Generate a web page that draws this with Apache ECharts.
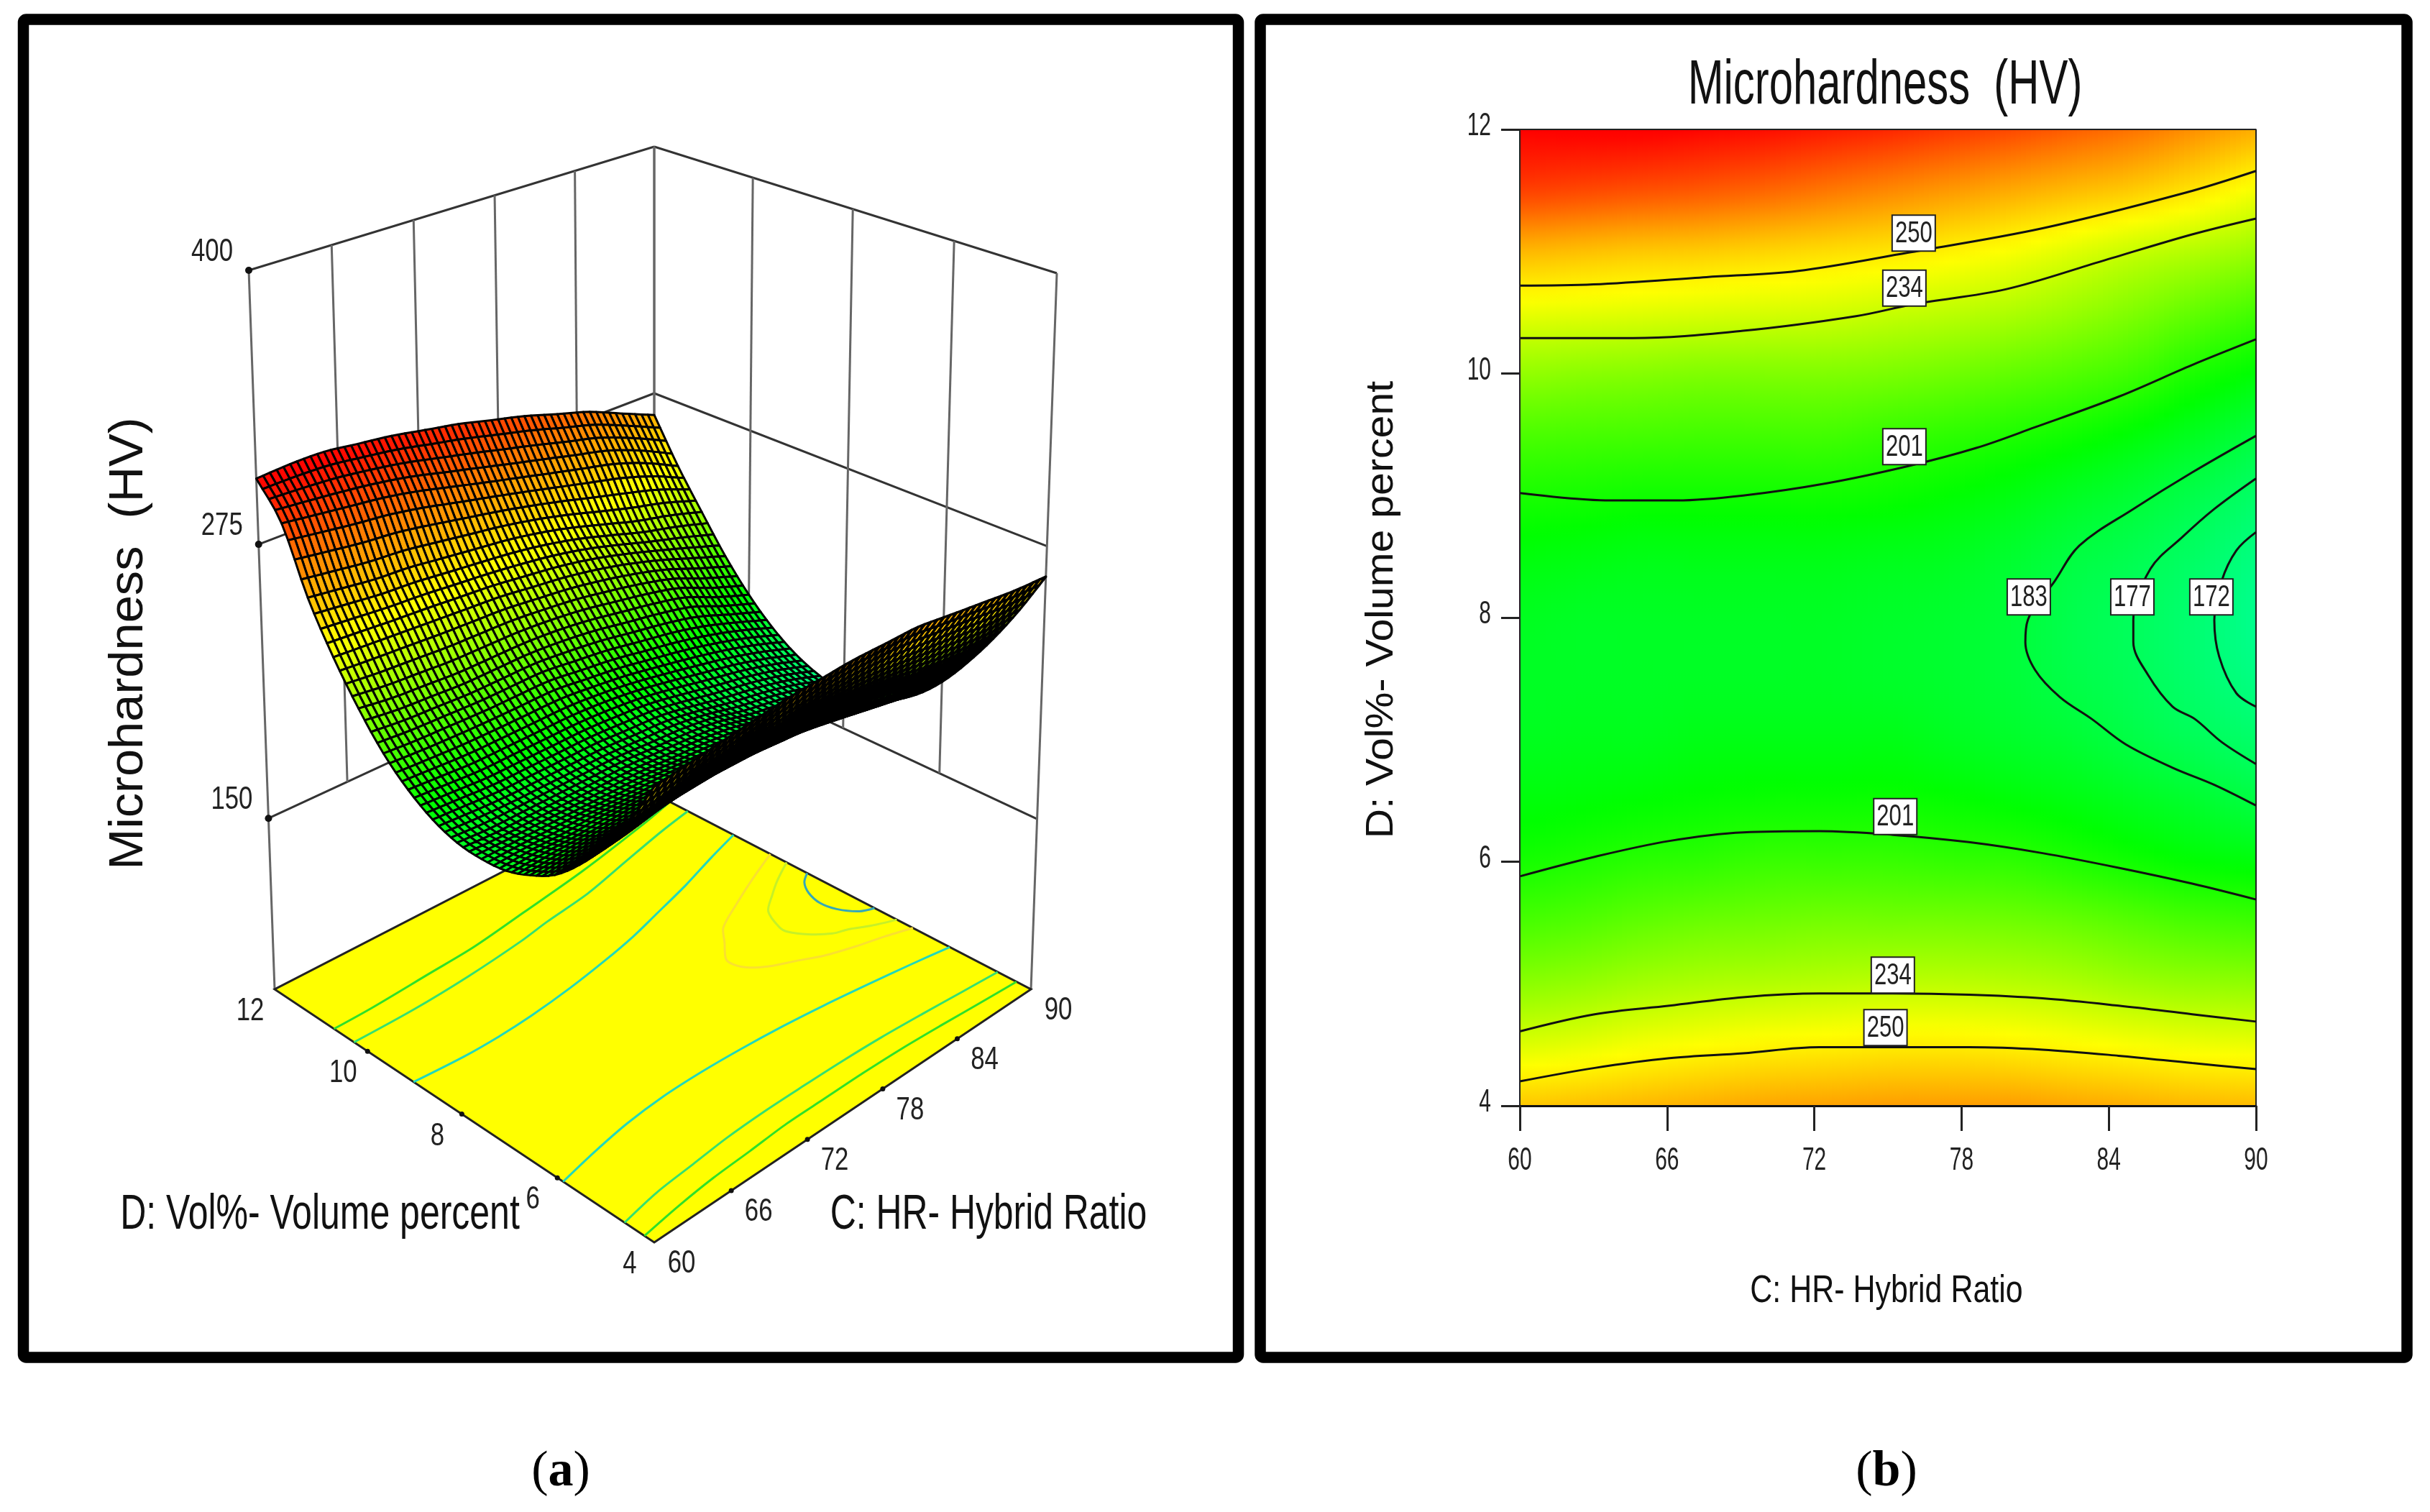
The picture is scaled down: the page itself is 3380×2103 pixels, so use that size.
<!DOCTYPE html>
<html><head><meta charset="utf-8">
<style>html,body{margin:0;padding:0;background:#fff}#c{width:3380px;height:2103px}</style>
<script src="https://cdn.jsdelivr.net/npm/echarts@6/dist/echarts.min.js"></script>
</head><body><div id="c"></div>
<script>
// ---------- values ----------
const hybridRatio = [60,62.5,65,67.5,70,72.5,75,77.5,80,82.5,85,87.5,90];
const volumePercent = [4,4.5,5,5.5,6,6.5,7,7.5,8,8.5,9,9.5,10,10.5,11,11.5,12];
const hardnessD4   = [258,260,262,264,266,267,268,268,268,266,264,262,261];
const hardnessD4_5 = [238,240,243,245,247,248,249,249,248,246,244,242,241];
const hardnessD5   = [222,224,227,229,230,231,232,232,231,229,226,224,223];
const hardnessD5_5 = [209,211,214,216,217,218,218,218,217,215,212,209,207];
const hardnessD6   = [199,201,203,204,206,206,206,205,204,201,198,195,193];
const hardnessD6_5 = [193,194,195,196,197,197,197,196,194,192,189,186,182];
const hardnessD7   = [189,190,190,191,191,191,191,189,187,185,181.5,178,174.5];
const hardnessD7_5 = [188,188,188,188,188,188,187,186,184,181,178,174,169.5];
const hardnessD8   = [189,188,188,188,188,188,187,186,184,180,177,173,167.5];
const hardnessD8_5 = [193,192,191,191,191,191,190,189,186,182.5,179.5,175.5,170];
const hardnessD9   = [200,199,198,198,198,198,197,195,192,188.5,185,180.5,175];
const hardnessD9_5 = [210,209,208.5,208,208,208,206,204,201,198,194,189,183];
const hardnessD10  = [224,222,221,220,220,220,219,217,214,211,207,200,194];
const hardnessD10_5= [241,240,239,238,237,236,234,232,229,225,220,214,208];
const hardnessD11  = [262,260,258,257,255,253,251,248,244,239,234,230,225];
const hardnessD11_5= [290,288,286,284,281,277,273,269,265,261,257,251,243];
const hardnessD12  = [305,306,306,304,302,299,296,292,288,283,278,271,264];
const hardnessRows = [hardnessD4,hardnessD4_5,hardnessD5,hardnessD5_5,hardnessD6,hardnessD6_5,hardnessD7,hardnessD7_5,hardnessD8,hardnessD8_5,hardnessD9,hardnessD9_5,hardnessD10,hardnessD10_5,hardnessD11,hardnessD11_5,hardnessD12];

const contour250Upper = [[60,10.72],[63,10.73],[67.6,10.79],[71.3,10.84],[75.8,10.99],[81.3,11.19],[87.1,11.48],[90,11.66]];
const contour234Upper = [[60,10.29],[64.6,10.29],[69.1,10.35],[73.7,10.47],[76.1,10.57],[79.8,10.69],[83.7,10.92],[87.4,11.14],[90,11.27]];
const contour201Upper = [[60,9.02],[63.7,8.96],[66.4,8.96],[69.1,9],[72.5,9.1],[75.8,9.24],[78.6,9.39],[81,9.56],[84.4,9.81],[87.4,10.07],[90,10.28]];
const contour183 = [[90,9.49],[87.4,9.19],[85,8.89],[82.8,8.59],[81.8,8.3],[80.7,7.98],[80.6,7.8],[81,7.57],[82,7.35],[83.3,7.17],[84.7,6.96],[86.6,6.77],[88.3,6.63],[90,6.46]];
const contour177 = [[90,9.14],[88.3,8.89],[87,8.66],[85.7,8.4],[85,7.98],[85,7.8],[85.6,7.53],[86.6,7.27],[87.5,7.17],[88.6,6.98],[90,6.8]];
const contour172 = [[90,8.7],[89.2,8.55],[88.6,8.3],[88.3,7.98],[88.5,7.68],[89.2,7.38],[90,7.27]];
const contour201Lower = [[60,5.88],[63.05,6.04],[66.1,6.17],[69.1,6.24],[72.2,6.25],[75.2,6.22],[78.3,6.16],[81.3,6.07],[84.4,5.95],[87.4,5.82],[90,5.69]];
const contour234Lower = [[60,4.61],[63.05,4.75],[66.1,4.82],[69.1,4.89],[72.2,4.92],[75.2,4.92],[78.3,4.91],[81.3,4.88],[84.4,4.82],[87.4,4.75],[90,4.69]];
const contour250Lower = [[60,4.2],[63.05,4.31],[66.1,4.39],[69.1,4.43],[72.2,4.48],[75.2,4.48],[78.3,4.48],[81.3,4.46],[84.4,4.41],[87.4,4.35],[90,4.3]];
const contourLines = [contour250Upper,contour234Upper,contour201Upper,contour183,contour177,contour172,contour201Lower,contour234Lower,contour250Lower];
const contourFloorColors = ['#2fe02a','#35e070','#22d8bc','#f9e030','#c6f028','#35a8b8','#22d8bc','#35e070','#2fe02a'];
const contourLabels = [[76.05,11.15,250],[75.67,10.7,234],[75.67,9.4,201],[80.74,8.17,183],[84.96,8.17,177],[88.18,8.17,172],[75.3,6.37,201],[75.2,5.07,234],[74.9,4.64,250]];

const hrTicks = [60,66,72,78,84,90];
const volTicks = [4,6,8,10,12];
const hardnessTicks = [150,275,400];

// ---------- shared helpers ----------
const SANS = '"Liberation Sans",sans-serif';
const SERIF = '"Liberation Serif",serif';
const colorStops = [[145,0,255,255],[195,0,255,0],[245,255,255,0],[305,255,0,0]];
function colorOf(v){
  if(v<=colorStops[0][0]) return 'rgb(0,255,255)';
  for(let i=1;i<colorStops.length;i++){
    const a=colorStops[i-1],b=colorStops[i];
    if(v<=b[0]){const t=(v-a[0])/(b[0]-a[0]);
      return 'rgb('+Math.round(a[1]+(b[1]-a[1])*t)+','+Math.round(a[2]+(b[2]-a[2])*t)+','+Math.round(a[3]+(b[3]-a[3])*t)+')';}
  }
  return 'rgb(255,0,0)';
}
function crSpline(p0,p1,p2,p3,t){return 0.5*(2*p1+(p2-p0)*t+(2*p0-5*p1+4*p2-p3)*t*t+(3*p1-p0-3*p2+p3)*t*t*t);}
function cellVal(i,j){
  const nc=hybridRatio.length,nr=volumePercent.length;
  if(i<0) return 2*cellVal(0,j)-cellVal(1,j);
  if(i>=nc) return 2*cellVal(nc-1,j)-cellVal(nc-2,j);
  if(j<0) return 2*cellVal(i,0)-cellVal(i,1);
  if(j>=nr) return 2*cellVal(i,nr-1)-cellVal(i,nr-2);
  return hardnessRows[j][i];
}
function surfaceAt(c,d){
  const fi=(c-hybridRatio[0])/(hybridRatio[1]-hybridRatio[0]),fj=(d-volumePercent[0])/(volumePercent[1]-volumePercent[0]);
  const i=Math.min(Math.floor(fi),hybridRatio.length-2),j=Math.min(Math.floor(fj),volumePercent.length-2);
  const tc=fi-i,td=fj-j,col=[];
  for(let m=-1;m<=2;m++) col.push(crSpline(cellVal(i-1,j+m),cellVal(i,j+m),cellVal(i+1,j+m),cellVal(i+2,j+m),tc));
  return crSpline(col[0],col[1],col[2],col[3],td);
}
const cellData=[];
for(let j=volumePercent.length-2;j>=0;j--) for(let i=hybridRatio.length-2;i>=0;i--) cellData.push([hybridRatio[i],volumePercent[j],hardnessRows[j][i]]);
const cStep=hybridRatio[1]-hybridRatio[0],dStep=volumePercent[1]-volumePercent[0];

// ---------- perspective box for panel (a) ----------
const floorZ=72,topZ=400;
const boxCorners=[
  {u:0,v:0,bx:910,by:1728,tx:910,ty:610,d:.32},
  {u:1,v:0,bx:1434,by:1376,tx:1470,ty:380,d:.329},
  {u:1,v:1,bx:910,by:1104,tx:910,ty:204,d:.338},
  {u:0,v:1,bx:382,by:1376,tx:346,ty:376,d:.329}];
function project(c,d,z){
  const u=echarts.number.linearMap(c,[60,90],[0,1]),v=echarts.number.linearMap(d,[4,12],[0,1]),w=echarts.number.linearMap(z,[floorZ,topZ],[0,1]);
  let sx=0,sy=0,sw=0;
  for(const k of boxCorners){
    const b=(k.u?u:1-u)*(k.v?v:1-v)*k.d;
    sx+=b*(k.bx+(k.tx-k.bx)*w);sy+=b*(k.by+(k.ty-k.by)*w);sw+=b;
  }
  return [sx/sw,sy/sw];
}
function seg(a,b,stroke,lw){return {type:'line',shape:{x1:a[0],y1:a[1],x2:b[0],y2:b[1]},style:{stroke:stroke,lineWidth:lw}};}
function tickText(text,x,y,size,sx,align){return {type:'text',x:x,y:y,scaleX:sx,style:{text:String(text),x:0,y:0,align:align||'center',verticalAlign:'middle',font:size+'px '+SANS,fill:'#222'}};}
function label3d(text,p,dx,dy){return tickText(text,p[0]+dx,p[1]+dy,44,.79);}
function dot(p,r){return {type:'circle',shape:{cx:p[0],cy:p[1],r:r},style:{fill:'#111'}};}

function renderWalls(){
  const ch=[];
  const LINE='#333',VERT='#666';
  for(const z of hardnessTicks){
    ch.push(seg(project(60,12,z),project(90,12,z),LINE,3));
    ch.push(seg(project(90,12,z),project(90,4,z),LINE,3));
  }
  for(const c of hrTicks) ch.push(seg(project(c,12,400),project(c,12,(c===60?floorZ:150)),VERT,3));
  for(const d of volTicks) ch.push(seg(project(90,d,400),project(90,d,(d===4?floorZ:150)),VERT,3));
  for(const z of hardnessTicks){const p=project(60,12,z);ch.push(dot(p,5));ch.push(label3d(z,p,-51,-25));}
  return {type:'group',children:ch};
}
function renderFloor(){
  const ch=[];
  const poly=[project(60,4,floorZ),project(90,4,floorZ),project(90,12,floorZ),project(60,12,floorZ)];
  ch.push({type:'polygon',shape:{points:poly},style:{fill:'#ffff00',stroke:'#222',lineWidth:3}});
  contourLines.forEach(function(line,idx){
    ch.push({type:'polyline',shape:{points:line.map(function(q){return project(q[0],q[1],floorZ);}),smooth:.3},style:{fill:null,stroke:contourFloorColors[idx],lineWidth:3}});
  });
  for(const d of volTicks){const p=project(60,d,floorZ);if(d>4&&d<12)ch.push(dot(p,3.5));ch.push(label3d(d,p,-34,31));}
  for(const c of hrTicks){const p=project(c,4,floorZ);if(c>60&&c<90)ch.push(dot(p,3.5));ch.push(label3d(c,p,38,30));}
  return {type:'group',children:ch};
}
const subC=5,subD=4;
function renderSurfaceCell(params,api){
  const c0=api.value(0),d0=api.value(1),ch=[];
  for(let b=subD-1;b>=0;b--) for(let a=subC-1;a>=0;a--){
    const c1=c0+cStep*a/subC,c2=c0+cStep*(a+1)/subC,d1=d0+dStep*b/subD,d2=d0+dStep*(b+1)/subD;
    const q=[[c1,d1],[c2,d1],[c2,d2],[c1,d2]].map(function(k){return project(k[0],k[1],surfaceAt(k[0],k[1]));});
    let area=0;for(let n=0;n<4;n++){const p=q[n],r=q[(n+1)%4];area+=p[0]*r[1]-r[0]*p[1];}
    const val=surfaceAt((c1+c2)/2,(d1+d2)/2);
    ch.push({type:'polygon',shape:{points:q},style:{fill:colorOf(val),stroke:'#000',lineWidth:area<0?3:3.4,lineJoin:'round'}});
  }
  return {type:'group',children:ch};
}

// ---------- contour map shading for panel (b) ----------
const stripsPerCell=12;
function renderShade(params,api){
  const c0=api.value(0),d0=api.value(1),ch=[];
  const yTop=Math.round(api.coord([c0,d0+dStep])[1]),yBot=Math.round(api.coord([c0,d0])[1]);
  for(let k=0;k<stripsPerCell;k++){
    const c1=c0+cStep*k/stripsPerCell,c2=c0+cStep*(k+1)/stripsPerCell,cm=(c1+c2)/2;
    const x1=Math.round(api.coord([c1,d0])[0]),x2=Math.round(api.coord([c2,d0])[0]);
    const stops=[];
    for(let s=0;s<=6;s++) stops.push({offset:s/6,color:colorOf(surfaceAt(cm,d0+dStep-dStep*s/6))});
    ch.push({type:'rect',shape:{x:x1,y:yTop,width:x2-x1,height:yBot-yTop},style:{fill:new echarts.graphic.LinearGradient(0,0,0,1,stops)}});
  }
  return {type:'group',children:ch};
}
function renderContourLabel(params,api){
  const p=api.coord([api.value(0),api.value(1)]);
  return {type:'group',children:[
    {type:'rect',shape:{x:p[0]-30,y:p[1]-25,width:60,height:50},style:{fill:'#fff',stroke:'#222',lineWidth:2}},
    tickText(api.value(2),p[0],p[1]+1,42,.74)
  ]};
}
function renderXTick(params,api){const p=api.coord([api.value(0),4]);return tickText(api.value(0),p[0],p[1]+77,44,.68);}
function renderYTick(params,api){const p=api.coord([60,api.value(0)]);return tickText(api.value(0),p[0]-40,p[1]-4,44,.68,'right');}

const series=[
  {type:'custom',coordinateSystem:'none',data:[[0]],renderItem:renderWalls,silent:true,animation:false,z:1},
  {type:'custom',coordinateSystem:'none',data:[[0]],renderItem:renderFloor,silent:true,animation:false,z:2},
  {type:'custom',coordinateSystem:'none',data:cellData,renderItem:renderSurfaceCell,silent:true,animation:false,progressive:0,z:3},
  {type:'custom',coordinateSystem:'cartesian2d',xAxisIndex:0,yAxisIndex:0,data:cellData,encode:{x:0,y:1},renderItem:renderShade,silent:true,animation:false,progressive:0,z:4},
  {type:'line',xAxisIndex:0,yAxisIndex:0,data:[[60,4],[60,12],[90,12],[90,4]],showSymbol:false,symbol:'none',lineStyle:{color:'#222',width:2},silent:true,animation:false,z:5}
];
contourLines.forEach(function(line){
  series.push({type:'line',xAxisIndex:0,yAxisIndex:0,data:line,smooth:.35,symbol:'none',showSymbol:false,lineStyle:{color:'#111',width:3},silent:true,animation:false,z:6});
});
series.push({type:'custom',coordinateSystem:'cartesian2d',xAxisIndex:0,yAxisIndex:0,data:contourLabels,encode:{x:0,y:1},renderItem:renderContourLabel,silent:true,animation:false,z:7});
series.push({type:'custom',coordinateSystem:'cartesian2d',xAxisIndex:0,yAxisIndex:0,data:hrTicks.map(function(t){return [t];}),encode:{x:0},clip:false,renderItem:renderXTick,silent:true,animation:false,z:7});
series.push({type:'custom',coordinateSystem:'cartesian2d',xAxisIndex:0,yAxisIndex:0,data:volTicks.map(function(t){return [t];}),encode:{y:0},clip:false,renderItem:renderYTick,silent:true,animation:false,z:7});

function txt(text,x,y,size,family,extra){
  return Object.assign({type:'text',x:x,y:y,z:100,silent:true,style:{text:text,x:0,y:0,align:'center',verticalAlign:'middle',font:size+'px '+family,fill:'#111'}},extra||{});
}
const chart=echarts.init(document.getElementById('c'),null,{renderer:'canvas',width:3380,height:2103});
chart.setOption({
  backgroundColor:'#fff',animation:false,
  grid:[{left:2114,top:180,width:1024,height:1358,show:false}],
  xAxis:[{type:'value',min:60,max:90,interval:6,gridIndex:0,z:8,axisLine:{show:true,lineStyle:{color:'#111',width:3}},splitLine:{show:false},
    axisTick:{show:true,length:35,lineStyle:{color:'#222',width:3}},axisLabel:{show:false}}],
  yAxis:[{type:'value',min:4,max:12,interval:2,gridIndex:0,z:8,axisLine:{show:true,lineStyle:{color:'#222',width:2}},splitLine:{show:false},
    axisTick:{show:true,length:26,lineStyle:{color:'#222',width:3}},axisLabel:{show:false}}],
  series:series,
  graphic:[
    {type:'rect',z:90,silent:true,shape:{x:32.5,y:27,width:1690,height:1861,r:4},style:{fill:null,stroke:'#000',lineWidth:15.5}},
    {type:'rect',z:90,silent:true,shape:{x:1753,y:27,width:1595,height:1861,r:4},style:{fill:null,stroke:'#000',lineWidth:15.5}},
    txt('Microhardness  (HV)',2622,120,88,SANS,{scaleX:.68}),
    txt('Microhardness  (HV)',180,895,66,SANS,{rotation:Math.PI/2,scaleX:1.04}),
    txt('D: Vol%- Volume percent',1922,848,54,SANS,{rotation:Math.PI/2,scaleX:1.06}),
    txt('C: HR- Hybrid Ratio',2624,1796,54,SANS,{scaleX:.795}),
    txt('D: Vol%- Volume percent',445,1690,68,SANS,{scaleX:.735}),
    txt('C: HR- Hybrid Ratio',1375,1690,68,SANS,{scaleX:.733}),
    {type:'text',x:780,y:2048,z:100,silent:true,style:{text:'{n|(}{b|a}{n|)}',x:0,y:0,align:'center',verticalAlign:'middle',rich:{n:{font:'70px '+SERIF,fill:'#000'},b:{font:'bold 70px '+SERIF,fill:'#000'}}}},
    {type:'text',x:2624,y:2048,z:100,silent:true,style:{text:'{n|(}{b|b}{n|)}',x:0,y:0,align:'center',verticalAlign:'middle',rich:{n:{font:'70px '+SERIF,fill:'#000'},b:{font:'bold 70px '+SERIF,fill:'#000'}}}}
  ]
});
</script></body></html>
